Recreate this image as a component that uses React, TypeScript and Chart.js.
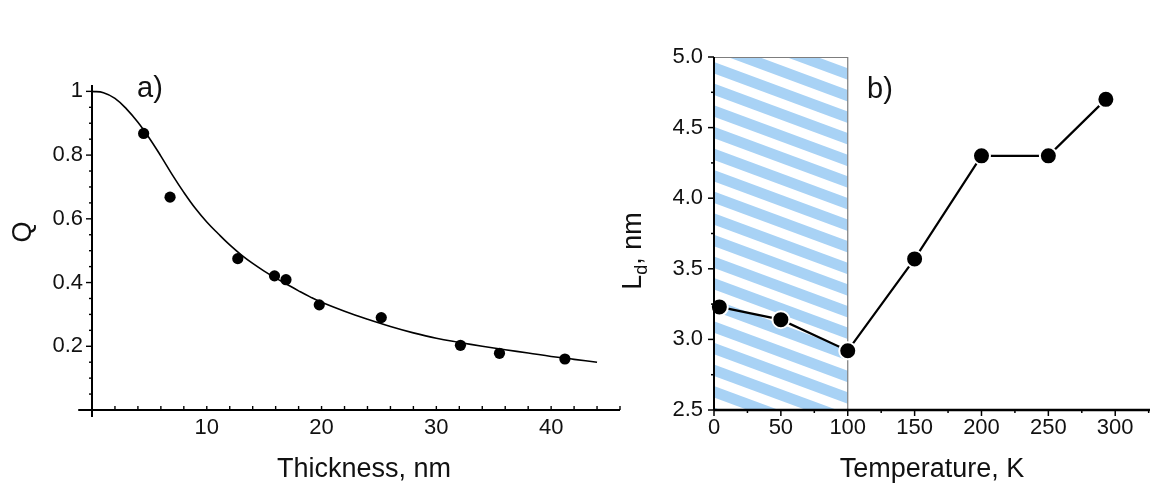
import React, { useEffect, useRef } from "react";
import { Chart, registerables } from "chart.js";

Chart.register(...registerables);

// ---------- data: panel a) ----------
const thicknessPoints = [4.5, 6.8, 12.7, 15.9, 16.9, 19.8, 25.2, 32.1, 35.5, 41.2];
const qPoints = [0.868, 0.668, 0.475, 0.421, 0.409, 0.33, 0.29, 0.203, 0.178, 0.16];
const fitThickness = [0, 1, 2, 3, 4, 5, 6, 7, 8, 9, 10, 11, 12, 13, 14, 15, 16, 17, 18, 19, 20, 22, 24, 26, 28, 30, 32, 34, 36, 38, 40, 42, 44];
const fitQ = [1.0, 0.996, 0.978, 0.945, 0.903, 0.853, 0.797, 0.738, 0.683, 0.633, 0.59, 0.553, 0.518, 0.487, 0.46, 0.436, 0.414, 0.394, 0.374, 0.355, 0.338, 0.31, 0.285, 0.262, 0.242, 0.225, 0.212, 0.2, 0.189, 0.179, 0.168, 0.159, 0.15];
const thicknessTicks = [10, 20, 30, 40];
const qTicks = [0.2, 0.4, 0.6, 0.8, 1];

// ---------- data: panel b) ----------
const temperature = [4, 50, 100, 150, 200, 250, 293];
const diffusionLength = [3.23, 3.14, 2.92, 3.57, 4.3, 4.3, 4.7];
const temperatureTicks = [0, 50, 100, 150, 200, 250, 300];
const ldTicks = [2.5, 3.0, 3.5, 4.0, 4.5, 5.0];
const shadedTemperature = [0, 100];

const FONT = "'Liberation Sans', Arial, Helvetica, sans-serif";
const INK = "#111";

function seg(ctx: CanvasRenderingContext2D, x1: number, y1: number, x2: number, y2: number) {
  ctx.beginPath();
  ctx.moveTo(x1, y1);
  ctx.lineTo(x2, y2);
  ctx.stroke();
}

const panelAPlugin = {
  id: "panelA",
  afterDraw(chart: any) {
    const { ctx, chartArea } = chart;
    const xs = chart.scales.x;
    const ys = chart.scales.y;
    const x0 = xs.getPixelForValue(0);
    const y0 = ys.getPixelForValue(0);
    ctx.save();
    ctx.strokeStyle = "#000";
    ctx.lineWidth = 2;
    seg(ctx, xs.getPixelForValue(-1.2), y0, chartArea.right, y0);
    seg(ctx, x0, chartArea.top, x0, y0 + 7);
    ctx.lineWidth = 1.4;
    for (let v = 2; v <= 46; v += 2) {
      const px = xs.getPixelForValue(v);
      seg(ctx, px, y0, px, y0 - 4);
    }
    for (let i = 1; i <= 20; i++) {
      const py = ys.getPixelForValue(i * 0.05);
      seg(ctx, x0, py, x0 - (i % 4 === 0 ? 6 : 3), py);
    }
    ctx.fillStyle = INK;
    ctx.textBaseline = "alphabetic";
    ctx.font = `27px ${FONT}`;
    ctx.textAlign = "center";
    ctx.fillText("Thickness, nm", 364, 477);
    ctx.textAlign = "left";
    ctx.font = `29px ${FONT}`;
    ctx.fillText("a)", 137, 97);
    ctx.save();
    ctx.translate(31, 232);
    ctx.rotate(-Math.PI / 2);
    ctx.textAlign = "center";
    ctx.font = `27px ${FONT}`;
    ctx.fillText("Q", 0, 0);
    ctx.restore();
    ctx.restore();
  },
};

const panelBPlugin = {
  id: "panelB",
  beforeDatasetsDraw(chart: any) {
    const { ctx } = chart;
    const xs = chart.scales.x;
    const ys = chart.scales.y;
    const left = xs.getPixelForValue(shadedTemperature[0]);
    const right = xs.getPixelForValue(shadedTemperature[1]);
    const top = ys.getPixelForValue(ys.max);
    const bottom = ys.getPixelForValue(ys.min);
    const w = right - left;
    const slope = 0.37;
    const period = 21.6;
    const band = 11.5;
    ctx.save();
    ctx.beginPath();
    ctx.rect(left, top, w, bottom - top);
    ctx.clip();
    ctx.fillStyle = "rgb(168,210,245)";
    for (let k = -8; k < 25; k++) {
      const c = top + 5 + k * period;
      ctx.beginPath();
      ctx.moveTo(left, c);
      ctx.lineTo(right, c + slope * w);
      ctx.lineTo(right, c + slope * w + band);
      ctx.lineTo(left, c + band);
      ctx.closePath();
      ctx.fill();
    }
    ctx.restore();
    ctx.save();
    ctx.strokeStyle = "rgb(125,125,125)";
    ctx.lineWidth = 1.2;
    ctx.beginPath();
    ctx.moveTo(left, top + 0.5);
    ctx.lineTo(right, top + 0.5);
    ctx.lineTo(right, bottom);
    ctx.stroke();
    ctx.restore();
  },
  afterDraw(chart: any) {
    const { ctx, chartArea } = chart;
    const xs = chart.scales.x;
    const ys = chart.scales.y;
    const x0 = chartArea.left;
    const y0 = chartArea.bottom;
    ctx.save();
    ctx.strokeStyle = "#000";
    ctx.lineWidth = 2;
    seg(ctx, x0, chartArea.top, x0, y0);
    ctx.lineWidth = 2.6;
    seg(ctx, x0, y0, chartArea.right, y0);
    ctx.lineWidth = 1.5;
    for (let v = 0; v <= 325; v += 25) {
      const px = xs.getPixelForValue(v);
      seg(ctx, px, y0, px, y0 + (v % 50 === 0 ? 6 : 3));
    }
    for (let v = 2.5; v <= 5.001; v += 0.25) {
      const py = ys.getPixelForValue(v);
      const major = Math.abs(v * 2 - Math.round(v * 2)) < 1e-6;
      seg(ctx, x0, py, x0 - (major ? 6 : 3), py);
    }
    ctx.fillStyle = INK;
    ctx.textBaseline = "alphabetic";
    ctx.font = `27px ${FONT}`;
    ctx.textAlign = "center";
    ctx.fillText("Temperature, K", 372, 477);
    ctx.textAlign = "left";
    ctx.font = `29px ${FONT}`;
    ctx.fillText("b)", 307, 98);
    // rotated "L_d, nm"
    ctx.save();
    ctx.translate(81, 251);
    ctx.rotate(-Math.PI / 2);
    const big = `27px ${FONT}`;
    const small = `18px ${FONT}`;
    ctx.font = big;
    const wL = ctx.measureText("L").width;
    const wRest = ctx.measureText(", nm").width;
    ctx.font = small;
    const wd = ctx.measureText("d").width;
    let cx = -(wL + wd + wRest) / 2;
    ctx.textAlign = "left";
    ctx.font = big;
    ctx.fillText("L", cx, 0);
    cx += wL;
    ctx.font = small;
    ctx.fillText("d", cx, 6);
    cx += wd;
    ctx.font = big;
    ctx.fillText(", nm", cx, 0);
    ctx.restore();
    ctx.restore();
  },
};

export default function App() {
  const refA = useRef<HTMLCanvasElement | null>(null);
  const refB = useRef<HTMLCanvasElement | null>(null);

  useEffect(() => {
    const tickFont = { family: FONT, size: 22 };
    const chartA = new Chart(refA.current as HTMLCanvasElement, {
      type: "scatter",
      data: {
        datasets: [
          {
            data: fitThickness.map((t, i) => ({ x: t, y: fitQ[i] })),
            showLine: true,
            borderColor: "#000",
            borderWidth: 1.6,
            pointRadius: 0,
            tension: 0.4,
            clip: false,
          } as any,
          {
            data: thicknessPoints.map((t, i) => ({ x: t, y: qPoints[i] })),
            backgroundColor: "#000",
            borderColor: "#000",
            borderWidth: 0,
            pointRadius: 5.6,
            clip: false,
          },
        ],
      },
      options: {
        responsive: false,
        animation: false,
        events: [],
        layout: { padding: { left: 0, right: 20, top: 85, bottom: 0 } },
        plugins: { legend: { display: false }, tooltip: { enabled: false } },
        scales: {
          x: {
            type: "linear",
            position: "bottom",
            min: 0,
            max: 46,
            grid: { display: false, drawTicks: false },
            border: { display: false },
            ticks: { font: tickFont, color: INK, padding: 5, maxRotation: 0, autoSkip: false },
            afterBuildTicks: (s: any) => {
              s.ticks = thicknessTicks.map((v) => ({ value: v }));
            },
            afterFit: (s: any) => {
              s.height = 73;
            },
          },
          y: {
            type: "linear",
            position: "left",
            min: 0,
            max: 1.02,
            grid: { display: false, drawTicks: false },
            border: { display: false },
            ticks: {
              font: tickFont,
              color: INK,
              padding: 9,
              autoSkip: false,
              callback: (v: any) => String(Math.round(Number(v) * 100) / 100),
            },
            afterBuildTicks: (s: any) => {
              s.ticks = qTicks.map((v) => ({ value: v }));
            },
            afterFit: (s: any) => {
              s.width = 92;
            },
          },
        },
      } as any,
      plugins: [panelAPlugin],
    });

    const chartB = new Chart(refB.current as HTMLCanvasElement, {
      type: "line",
      data: {
        datasets: [
          {
            data: temperature.map((t, i) => ({ x: t, y: diffusionLength[i] })),
            borderColor: "#000",
            borderWidth: 2.2,
            backgroundColor: "#000",
            pointBackgroundColor: "#000",
            pointBorderColor: "#fff",
            pointBorderWidth: 2,
            pointRadius: 8.5,
            tension: 0,
            clip: false,
          },
        ],
      },
      options: {
        responsive: false,
        animation: false,
        events: [],
        layout: { padding: { left: 0, right: 24, top: 57, bottom: 0 } },
        plugins: { legend: { display: false }, tooltip: { enabled: false } },
        scales: {
          x: {
            type: "linear",
            position: "bottom",
            min: 0,
            max: 326,
            grid: { display: false, drawTicks: false },
            border: { display: false },
            ticks: { font: tickFont, color: INK, padding: 5, maxRotation: 0, autoSkip: false },
            afterBuildTicks: (s: any) => {
              s.ticks = temperatureTicks.map((v) => ({ value: v }));
            },
            afterFit: (s: any) => {
              s.height = 73;
            },
          },
          y: {
            type: "linear",
            position: "left",
            min: 2.5,
            max: 5.0,
            grid: { display: false, drawTicks: false },
            border: { display: false },
            ticks: {
              font: tickFont,
              color: INK,
              padding: 11,
              autoSkip: false,
              callback: (v: any) => Number(v).toFixed(1),
            },
            afterBuildTicks: (s: any) => {
              s.ticks = ldTicks.map((v) => ({ value: v }));
            },
            afterFit: (s: any) => {
              s.width = 154;
            },
          },
        },
      } as any,
      plugins: [panelBPlugin],
    });

    return () => {
      chartA.destroy();
      chartB.destroy();
    };
  }, []);

  return (
    <div style={{ position: "absolute", left: 0, top: 0, width: 1174, height: 483, background: "#fff", overflow: "hidden" }}>
      <canvas ref={refA} width={640} height={483} style={{ position: "absolute", left: 0, top: 0 }} />
      <canvas ref={refB} width={614} height={483} style={{ position: "absolute", left: 560, top: 0 }} />
    </div>
  );
}
